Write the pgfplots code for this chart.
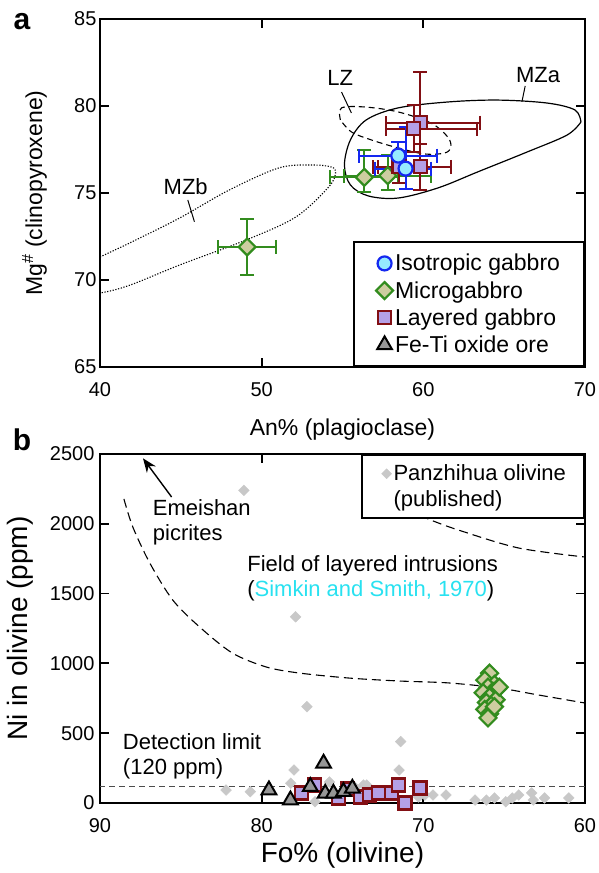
\documentclass[border=0pt]{standalone}
\usepackage{fontspec}
\setmainfont{Liberation Sans}
\usepackage{pgfplots}
\pgfplotsset{compat=1.18}
\usetikzlibrary{arrows.meta}
\definecolor{isoblue}{RGB}{20,40,240}
\definecolor{isofill}{RGB}{150,235,255}
\definecolor{mgreen}{RGB}{50,140,30}
\definecolor{mkhaki}{RGB}{205,205,160}
\definecolor{lred}{RGB}{130,15,20}
\definecolor{lfill}{RGB}{180,160,230}
\definecolor{oregray}{RGB}{150,150,150}
\definecolor{pubgray}{RGB}{200,200,200}
\definecolor{refcyan}{RGB}{40,225,240}

\begin{document}
\begin{tikzpicture}
\useasboundingbox (0,0) rectangle (598pt,873pt);
\pgfplotsset{
  panel/.style={scale only axis, tick align=inside, major tick length=9pt,
    axis line style={line width=2.2pt},
    every tick/.style={black, line width=1.8pt},
    tick label style={font=\fontsize{20}{22}\selectfont},
    xticklabel style={yshift=-12pt},
    label style={font=\fontsize{23}{26}\selectfont},
    /pgf/number format/assume math mode=true,
    /pgf/number format/set thousands separator={},
    legend cell align=left},
  ebars/.style={error bars/.cd, x dir=both, x explicit, y dir=both, y explicit,
    error bar style={line width=2pt},
    error mark options={rotate=90, mark size=7pt, line width=2pt}},
}

% ---------------- panel a ----------------
\begin{axis}[panel, at={(100pt,506pt)}, anchor=south west,
  width=485pt, height=348pt,
  xmin=40, xmax=70, ymin=65, ymax=85,
  xtick={40,50,60,70}, ytick={65,70,75,80,85},
  xlabel={An\% (plagioclase)},
  ylabel={Mg\textsuperscript{\#} (clinopyroxene)},
  xlabel style={at={(axis description cs:0.5,-0.18)}, anchor=center},
  ylabel style={at={(axis description cs:-0.135,0.5)}, anchor=center},
  legend style={at={(1,0)}, anchor=south east, draw=black, line width=2pt,
    font=\fontsize{23}{26}\selectfont, inner xsep=22pt, inner ysep=10pt, row sep=5pt},
]
\addlegendimage{only marks, mark=*, mark size=7pt, mark options={draw=isoblue, fill=isofill, line width=2.2pt}}
\addlegendentry{Isotropic gabbro}
\addlegendimage{only marks, mark=square*, mark size=6pt, mark options={rotate=45, draw=mgreen, fill=mkhaki, line width=2.2pt}}
\addlegendentry{Microgabbro}
\addlegendimage{only marks, mark=square*, mark size=6.5pt, mark options={draw=lred, fill=lfill, line width=2.2pt}}
\addlegendentry{Layered gabbro}
\addlegendimage{only marks, mark=triangle*, mark size=8.5pt, mark options={draw=black, fill=oregray, line width=2pt}}
\addlegendentry{Fe-Ti oxide ore}

% fields
\addplot[forget plot, black, line width=1.2pt, smooth, tension=0.55] coordinates {
  (69.75,79.08)(68.89,78.33)(66.43,77.36)(63.36,76.21)(60.90,75.29)(58.44,74.71)
  (56.60,74.83)(55.49,75.46)(55.12,76.61)(55.49,78.05)(56.47,79.20)(58.44,79.89)
  (61.51,80.23)(64.59,80.34)(67.66,80.17)(69.38,79.77)(69.75,79.08)};
\addplot[forget plot, black, line width=1.1pt, dash pattern=on 6pt off 4pt, smooth, tension=0.55] coordinates {
  (54.87,79.20)(54.94,79.89)(56.41,79.94)(58.44,79.66)(60.47,79.02)(61.51,78.22)
  (61.70,77.64)(61.33,77.30)(60.10,77.24)(58.44,77.59)(56.78,78.05)(55.55,78.51)(54.87,79.20)};
\addplot[forget plot, black, line width=1.1pt, dash pattern=on 1.2pt off 1.6pt, smooth, tension=0.55] coordinates {
  (37.23,69.71)(38.16,70.46)(40.00,71.32)(41.84,72.13)(44.92,73.56)(47.99,75.17)
  (51.06,76.44)(53.09,76.61)(54.32,76.49)(54.57,76.15)(54.14,75.34)(52.11,73.62)
  (49.04,72.30)(44.92,70.86)(41.84,69.70)(40.00,69.25)(38.16,69.08)(37.23,69.71)};

\node[font=\fontsize{22}{24}\selectfont] at (axis cs:54.86,81.6) {LZ};
\draw[black, line width=1pt] (axis cs:54.94,80.8) -- (axis cs:55.55,79.6);
\node[font=\fontsize{22}{24}\selectfont] at (axis cs:67.1,81.8) {MZa};
\draw[black, line width=1pt] (axis cs:66.3,81.15) -- (axis cs:66.1,80.25);
\node[font=\fontsize{22}{24}\selectfont] at (axis cs:45.3,75.35) {MZb};
\draw[black, line width=1pt] (axis cs:45.43,74.6) -- (axis cs:45.84,73.35);

% microgabbro
\addplot[forget plot, only marks, color=mgreen, mark=square*, mark size=6pt,
  mark options={rotate=45, draw=mgreen, fill=mkhaki, line width=2.2pt}, ebars]
  coordinates {(49.1,71.9) +- (1.8,1.6)
    (56.35,75.9) += (2.1,1.55) -= (2.1,0.85)
    (57.8,76.0) += (2.7,1.2) -= (2.7,0.8)};
% layered gabbro
\addplot[forget plot, only marks, color=lred, mark=square*, mark size=6.5pt,
  mark options={draw=lred, fill=lfill, line width=2.2pt}, ebars]
  coordinates {(59.8,79.05) += (3.7,2.9) -= (2.1,2.9)
    (59.4,78.7) += (3.9,1.35) -= (1.7,1.35)
    (59.8,76.5) += (1.9,1.3) -= (2.9,1.3)
    (58.5,76.5) +- (1.3,0.9)};
% isotropic gabbro
\addplot[forget plot, only marks, color=isoblue, mark=*, mark size=7pt,
  mark options={draw=isoblue, fill=isofill, line width=2.2pt}, ebars]
  coordinates {(58.45,77.15) +- (2.4,0.8)
    (58.9,76.4) += (1.6,2.4) -= (1.9,1.15)};
\end{axis}

% ---------------- panel b ----------------
\begin{axis}[panel, at={(100pt,70pt)}, anchor=south west,
  width=485pt, height=349pt,
  x dir=reverse, xmin=60, xmax=90, ymin=0, ymax=2500,
  xtick={60,70,80,90}, ytick={0,500,1000,1500,2000,2500},
  yticklabel style={xshift=-2pt},
  xlabel={Fo\% (olivine)},
  ylabel={Ni in olivine (ppm)},
  label style={font=\fontsize{28}{30}\selectfont},
  xlabel style={at={(axis description cs:0.5,-0.15)}, anchor=center},
  ylabel style={at={(axis description cs:-0.165,0.5)}, anchor=center},
  legend style={at={(1,1)}, anchor=north east, draw=black, line width=2pt,
    font=\fontsize{22}{25}\selectfont, inner xsep=16pt, inner ysep=8pt, row sep=4pt},
]
\addlegendimage{only marks, mark=square*, mark size=3.5pt, mark options={rotate=45, draw=pubgray, fill=pubgray, line width=0.4pt}}
\addlegendentry{Panzhihua olivine}
\addlegendimage{empty legend}
\addlegendentry{(published)}

% published olivine
\addplot[forget plot, only marks, color=pubgray, mark=square*, mark size=3.8pt,
  mark options={rotate=45, draw=pubgray, fill=pubgray, line width=0.4pt}] coordinates {
  (81.1,2240)(77.9,1334)(77.2,690)(71.4,440)(71.5,236)(82.2,93)(80.7,81)
  (78.0,236)(78.2,141)(73.5,129)(76.7,9)(73.7,129)(69.4,57)(68.6,57)
  (66.8,21)(66.1,21)(65.6,36)(64.9,9)(64.5,36)(64.1,57)(63.3,72)(63.2,21)
  (62.5,36)(61.0,36)(70.3,43)(69.9,57)(75.8,150)(74.2,110)};

% detection limit and field of layered intrusions
\addplot[forget plot, black!70, line width=1.1pt, dash pattern=on 6pt off 4pt] coordinates {(60,120)(90,120)};
\addplot[forget plot, black, line width=1.1pt, dash pattern=on 9pt off 5pt, smooth] coordinates {
  (88.52,2178)(87.97,1977)(86.92,1719)(85.50,1454)(83.84,1261)(81.81,1074)
  (79.71,974)(77.68,931)(74.60,895)(71.52,874)(68.43,860)(65.35,824)(62.89,774)(59.99,716)};
\addplot[forget plot, black, line width=1.1pt, dash pattern=on 9pt off 5pt, smooth] coordinates {
  (71.0,2100)(69.54,2027)(67.82,1955)(64.12,1827)(60.0,1762)};

% layered gabbro
\addplot[forget plot, only marks, mark=square*, mark size=6.5pt,
  mark options={draw=lred, fill=lfill, line width=2.2pt}] coordinates {
  (77.52,72)(76.72,129)(75.25,36)(74.70,100)(73.90,43)(73.34,57)
  (72.79,72)(71.99,72)(71.56,129)(71.13,0)(70.21,107)};
% Fe-Ti oxide ore
\addplot[forget plot, only marks, mark=triangle*, mark size=8.5pt,
  mark options={draw=black, fill=oregray, line width=2pt}] coordinates {
  (79.55,93)(78.22,21)(76.99,117)(76.17,284)(76.07,69)(75.56,69)(74.94,81)(74.39,105)};
% microgabbro
\addplot[forget plot, only marks, mark=square*, mark size=6pt,
  mark options={rotate=45, draw=mgreen, fill=mkhaki, line width=2.2pt}] coordinates {
  (65.9,930)(66.2,880)(65.6,850)(65.4,820)(66.0,830)(65.7,800)(66.3,790)(65.9,760)
  (65.5,740)(66.1,720)(65.8,700)(66.2,670)(65.9,640)(66.0,610)(65.6,690)(65.3,830)};

\draw[-{Stealth[length=14pt, width=11pt]}, line width=1.4pt] (axis cs:85.57,2192) -- (axis cs:87.34,2469);
\node[anchor=north west, align=left, font=\fontsize{22}{25}\selectfont, inner sep=0pt]
  at (axis cs:86.74,2175) {Emeishan\\picrites};
\node[anchor=north west, align=left, font=\fontsize{22}{25}\selectfont, inner sep=0pt]
  at (axis cs:80.9,1776) {Field of layered intrusions\\(\textcolor{refcyan}{Simkin and Smith, 1970})};
\node[anchor=north west, align=left, font=\fontsize{22}{25}\selectfont, inner sep=0pt]
  at (axis cs:88.59,501) {Detection limit\\(120 ppm)};
\end{axis}

\node[font=\fontsize{30}{32}\selectfont\bfseries] at (22pt,851pt) {a};
\node[font=\fontsize{30}{32}\selectfont\bfseries] at (22pt,433pt) {b};
\end{tikzpicture}
\end{document}
